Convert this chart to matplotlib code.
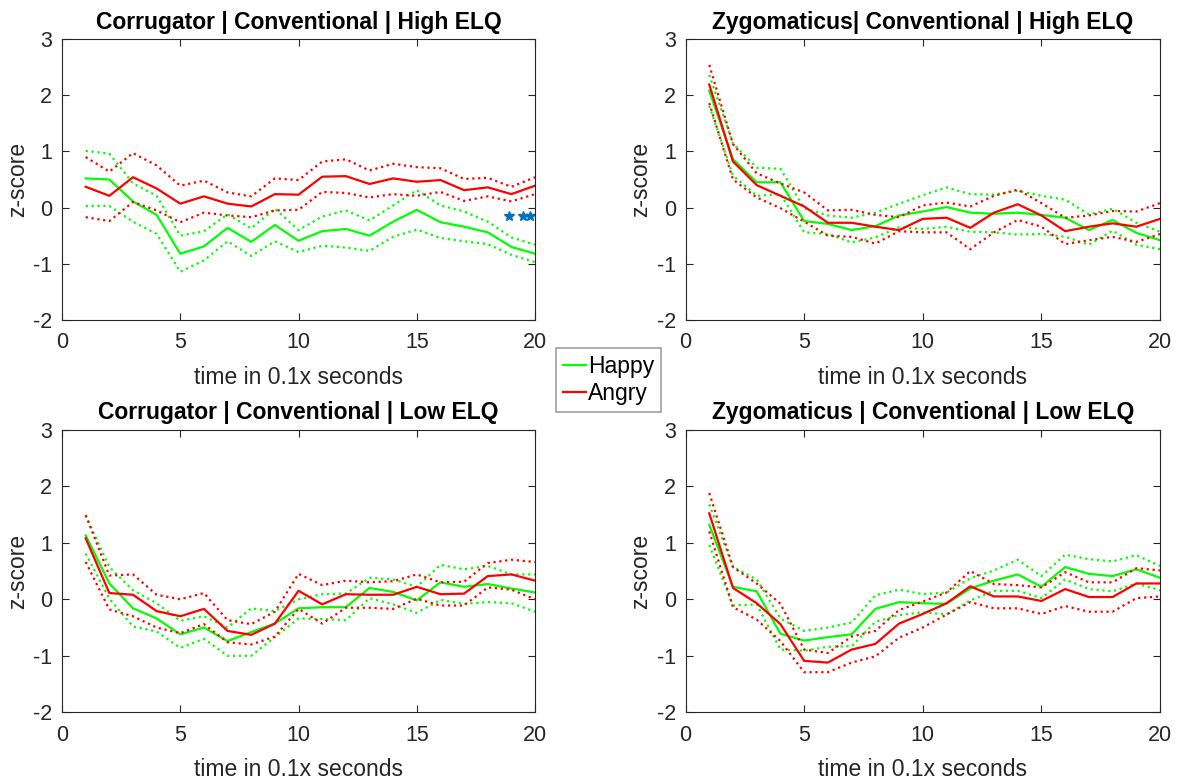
import numpy as np
import matplotlib
matplotlib.use("Agg")
import matplotlib.pyplot as plt

plt.rcParams['font.family'] = ['Liberation Sans', 'DejaVu Sans']
plt.rcParams['axes.unicode_minus'] = False

t = np.arange(1, 21)

# Corrugator | Conventional | High ELQ
cor_hi_happy = [0.52, 0.50, 0.11, -0.13, -0.82, -0.69, -0.36, -0.61, -0.31, -0.59,
                -0.42, -0.38, -0.50, -0.25, -0.04, -0.26, -0.34, -0.44, -0.70, -0.82]
cor_hi_happy_up = [1.01, 0.96, 0.43, 0.21, -0.50, -0.42, -0.12, -0.37, -0.02, -0.40,
                   -0.16, -0.05, -0.23, 0.04, 0.31, 0.04, -0.07, -0.25, -0.53, -0.66]
cor_hi_happy_lo = [0.03, 0.03, -0.25, -0.47, -1.14, -0.94, -0.60, -0.86, -0.60, -0.79,
                   -0.68, -0.71, -0.77, -0.52, -0.39, -0.54, -0.60, -0.65, -0.84, -0.97]
cor_hi_angry = [0.37, 0.21, 0.54, 0.34, 0.07, 0.20, 0.07, 0.02, 0.24, 0.23,
                0.55, 0.56, 0.42, 0.52, 0.46, 0.49, 0.31, 0.36, 0.24, 0.39]
cor_hi_angry_up = [0.90, 0.64, 0.97, 0.75, 0.39, 0.48, 0.27, 0.20, 0.52, 0.49,
                   0.82, 0.86, 0.66, 0.78, 0.72, 0.70, 0.51, 0.53, 0.37, 0.54]
cor_hi_angry_lo = [-0.17, -0.24, 0.10, -0.05, -0.26, -0.09, -0.14, -0.17, -0.05, -0.04,
                   0.28, 0.26, 0.18, 0.24, 0.21, 0.28, 0.12, 0.20, 0.11, 0.24]

# Zygomaticus | Conventional | High ELQ
zyg_hi_happy = [2.08, 0.86, 0.45, 0.45, -0.24, -0.29, -0.40, -0.33, -0.14, -0.07,
                0.01, -0.09, -0.11, -0.09, -0.13, -0.18, -0.40, -0.22, -0.45, -0.58]
zyg_hi_happy_up = [2.36, 1.14, 0.71, 0.69, -0.01, -0.14, -0.18, -0.09, 0.07, 0.22,
                   0.36, 0.24, 0.23, 0.30, 0.21, 0.14, -0.12, -0.02, -0.27, -0.43]
zyg_hi_happy_lo = [1.81, 0.57, 0.21, 0.24, -0.44, -0.47, -0.62, -0.53, -0.35, -0.38,
                   -0.34, -0.43, -0.44, -0.48, -0.47, -0.52, -0.66, -0.41, -0.66, -0.74]
zyg_hi_angry = [2.19, 0.82, 0.40, 0.21, 0.02, -0.27, -0.27, -0.34, -0.40, -0.20,
                -0.18, -0.36, -0.09, 0.06, -0.14, -0.42, -0.34, -0.28, -0.34, -0.20]
zyg_hi_angry_up = [2.54, 1.13, 0.61, 0.43, 0.27, -0.05, -0.04, -0.13, -0.17, 0.04,
                   0.09, 0.02, 0.21, 0.32, 0.08, -0.18, -0.14, -0.06, -0.07, 0.08]
zyg_hi_angry_lo = [1.86, 0.50, 0.18, -0.01, -0.25, -0.50, -0.52, -0.64, -0.42, -0.44,
                   -0.44, -0.74, -0.44, -0.22, -0.34, -0.65, -0.58, -0.52, -0.61, -0.47]

# Corrugator | Conventional | Low ELQ
cor_lo_happy = [1.13, 0.28, -0.16, -0.34, -0.62, -0.50, -0.74, -0.58, -0.43, -0.16,
                -0.14, -0.14, 0.20, 0.13, -0.02, 0.30, 0.22, 0.27, 0.19, 0.12]
cor_lo_happy_up = [1.48, 0.57, 0.16, -0.07, -0.38, -0.30, -0.50, -0.16, -0.21, 0.00,
                   0.09, 0.10, 0.38, 0.35, 0.22, 0.61, 0.53, 0.59, 0.44, 0.44]
cor_lo_happy_lo = [0.81, 0.01, -0.48, -0.57, -0.86, -0.70, -1.00, -1.00, -0.67, -0.34,
                   -0.35, -0.37, 0.02, -0.09, -0.24, -0.01, -0.08, -0.05, -0.07, -0.22]
cor_lo_angry = [1.08, 0.11, 0.08, -0.21, -0.30, -0.17, -0.56, -0.63, -0.43, 0.15,
                -0.09, 0.09, 0.08, 0.08, 0.22, 0.09, 0.10, 0.41, 0.44, 0.33]
cor_lo_angry_up = [1.49, 0.42, 0.44, 0.08, 0.00, 0.11, -0.37, -0.44, -0.22, 0.45,
                   0.25, 0.33, 0.30, 0.32, 0.44, 0.30, 0.31, 0.64, 0.70, 0.66]
cor_lo_angry_lo = [0.66, -0.18, -0.30, -0.50, -0.60, -0.44, -0.76, -0.80, -0.66, -0.17,
                   -0.43, -0.15, -0.15, -0.17, 0.01, -0.11, -0.11, 0.21, 0.17, 0.00]

# Zygomaticus | Conventional | Low ELQ
zyg_lo_happy = [1.32, 0.22, 0.14, -0.61, -0.73, -0.67, -0.62, -0.17, -0.05, -0.07,
                -0.08, 0.19, 0.33, 0.44, 0.22, 0.57, 0.45, 0.41, 0.53, 0.38]
zyg_lo_happy_up = [1.68, 0.57, 0.35, -0.34, -0.56, -0.50, -0.41, 0.07, 0.17, 0.09,
                   0.12, 0.37, 0.51, 0.70, 0.41, 0.79, 0.71, 0.67, 0.78, 0.59]
zyg_lo_happy_lo = [0.96, -0.11, -0.09, -0.89, -0.91, -0.84, -0.83, -0.40, -0.28, -0.23,
                   -0.27, -0.02, 0.15, 0.15, 0.02, 0.35, 0.18, 0.14, 0.28, 0.16]
zyg_lo_angry = [1.52, 0.20, -0.07, -0.44, -1.09, -1.12, -0.89, -0.79, -0.43, -0.26,
                -0.07, 0.23, 0.05, 0.05, -0.03, 0.18, 0.04, 0.04, 0.28, 0.28]
zyg_lo_angry_up = [1.88, 0.57, 0.28, -0.08, -0.89, -0.95, -0.66, -0.56, -0.19, -0.04,
                   0.12, 0.50, 0.27, 0.25, 0.21, 0.48, 0.30, 0.30, 0.55, 0.51]
zyg_lo_angry_lo = [1.20, -0.14, -0.36, -0.74, -1.29, -1.29, -1.12, -1.01, -0.68, -0.50,
                   -0.27, -0.05, -0.16, -0.16, -0.26, -0.12, -0.22, -0.22, 0.02, 0.05]

# significance markers (top-left panel)
star_x = [18.9, 19.5, 19.8]
star_y = [-0.15, -0.15, -0.15]

titles = ['Corrugator | Conventional | High ELQ', 'Zygomaticus| Conventional | High ELQ',
          'Corrugator | Conventional | Low ELQ', 'Zygomaticus | Conventional | Low ELQ']

panels = [
    (cor_hi_happy, cor_hi_happy_up, cor_hi_happy_lo, cor_hi_angry, cor_hi_angry_up, cor_hi_angry_lo),
    (zyg_hi_happy, zyg_hi_happy_up, zyg_hi_happy_lo, zyg_hi_angry, zyg_hi_angry_up, zyg_hi_angry_lo),
    (cor_lo_happy, cor_lo_happy_up, cor_lo_happy_lo, cor_lo_angry, cor_lo_angry_up, cor_lo_angry_lo),
    (zyg_lo_happy, zyg_lo_happy_up, zyg_lo_happy_lo, zyg_lo_angry, zyg_lo_angry_up, zyg_lo_angry_lo),
]

green = '#00ff00'
red = '#ff0000'
txt = '#262626'

fig = plt.figure(figsize=(11.84, 7.82), dpi=100)
rects = [[0.0524, 0.5908, 0.3995, 0.3593],
         [0.5790, 0.5908, 0.4008, 0.3593],
         [0.0524, 0.0891, 0.3995, 0.3614],
         [0.5790, 0.0891, 0.4008, 0.3614]]

for i, (r, d) in enumerate(zip(rects, panels)):
    ax = fig.add_axes(r)
    hm, hu, hl, am, au, al = d
    lh, = ax.plot(t, hm, color=green, lw=1.6)
    ax.plot(t, hu, color=green, lw=1.6, ls=':')
    ax.plot(t, hl, color=green, lw=1.6, ls=':')
    la, = ax.plot(t, am, color=red, lw=1.6)
    ax.plot(t, au, color=red, lw=1.6, ls=':')
    ax.plot(t, al, color=red, lw=1.6, ls=':')
    if i == 0:
        ax.plot(star_x, star_y, ls='none', marker='*', ms=7, color='#0072bd')
    ax.set_xlim(0, 20)
    ax.set_ylim(-2, 3)
    ax.set_xticks([0, 5, 10, 15, 20])
    ax.set_yticks([-2, -1, 0, 1, 2, 3])
    ax.tick_params(direction='in', top=True, right=True, labelsize=15.5,
                   colors=txt, length=5, pad=7)
    ax.tick_params(axis='x', pad=9)
    for s in ax.spines.values():
        s.set_color(txt)
    ax.set_title(titles[i], fontsize=16.5, fontweight='bold', pad=7.5)
    ax.set_xlabel('time in 0.1x seconds', fontsize=16.5, color=txt, labelpad=9)
    ax.set_ylabel('z-score', fontsize=16.5, color=txt, labelpad=3)

leg = fig.legend([lh, la], ['Happy', 'Angry'], loc='center',
                 bbox_to_anchor=(0.514, 0.514), fontsize=16.5,
                 handlelength=1.0, handletextpad=0.1, borderpad=0.3,
                 labelspacing=0.15, fancybox=False, framealpha=1)
leg.get_frame().set_edgecolor('#a0a0a0')
leg.get_frame().set_linewidth(1.2)

fig.savefig('out.png', dpi=100)
